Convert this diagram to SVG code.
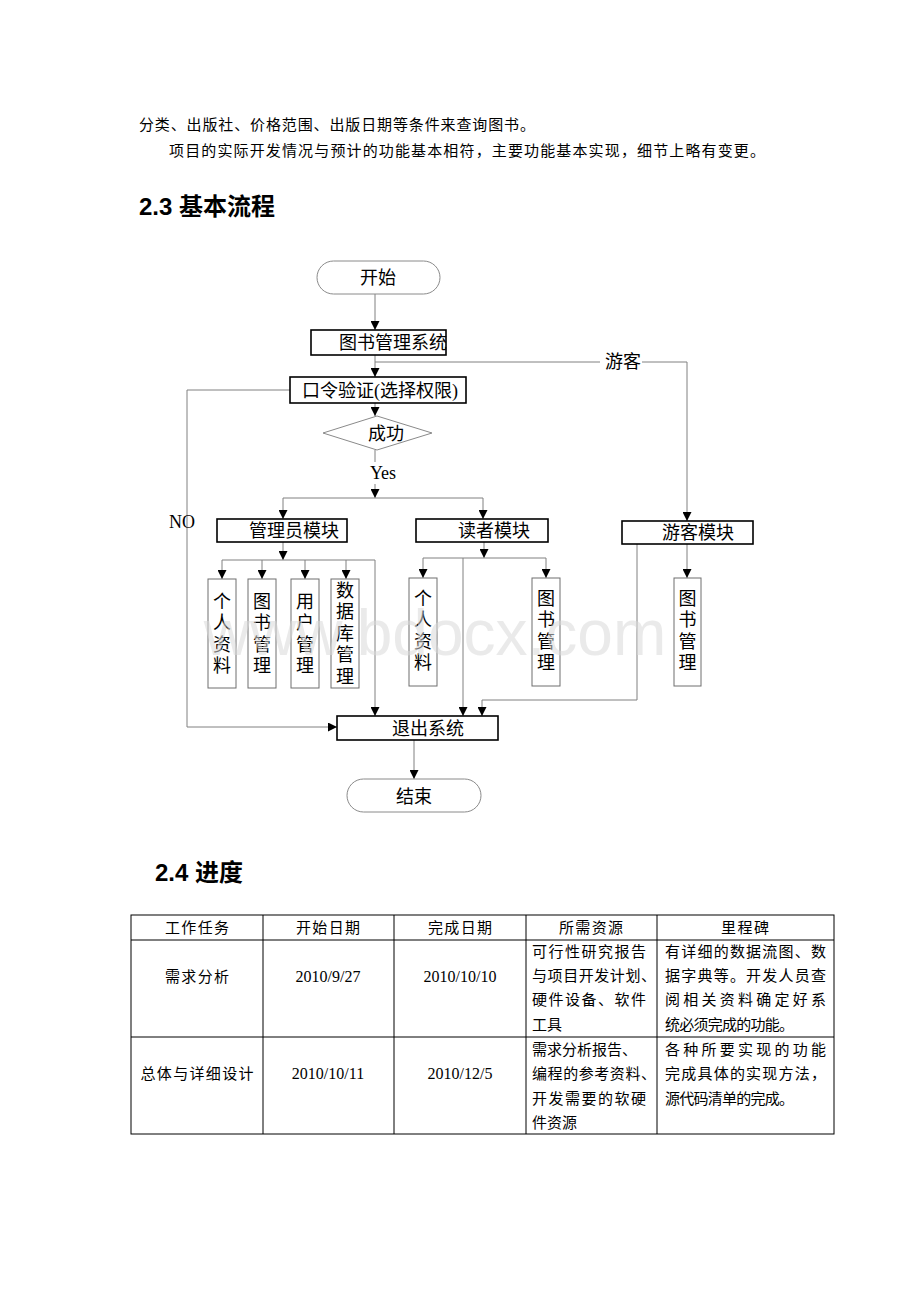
<svg xmlns="http://www.w3.org/2000/svg" width="920" height="1302" viewBox="0 0 920 1302">
<style>
.body{font-family:"Liberation Serif","Noto Sans CJK SC",serif;fill:#000}
.h{font-family:"Liberation Sans","Noto Sans CJK SC",sans-serif;font-weight:bold;font-size:24px;fill:#000}
.n{font-family:"Liberation Serif","Noto Sans CJK SC",serif;font-size:18px;fill:#000}
.v{font-family:"Liberation Serif","Noto Sans CJK SC",serif;font-size:18px;fill:#000;writing-mode:vertical-rl;text-orientation:upright;letter-spacing:3.5px}
.t{font-family:"Liberation Serif","Noto Sans CJK SC",serif;font-size:15px;fill:#000}
.d{font-family:"Liberation Serif","Noto Sans CJK SC",serif;font-size:16px;fill:#000}
.box{fill:#fff;stroke:#000;stroke-width:1.6}
.sub{fill:#fff;stroke:#6e6e6e;stroke-width:1}
.term{fill:#fff;stroke:#8a8a8a;stroke-width:1}
.conn path{fill:none;stroke:#808080;stroke-width:1}
.arr{marker-end:url(#ah)}
.grid{fill:none;stroke:#000;stroke-width:1}
.wm{font-family:"Liberation Sans",sans-serif;font-size:64px;fill:#d8d8d8;fill-opacity:0.55}
</style>
<defs>
<marker id="ah" viewBox="0 0 10 10" refX="10" refY="5" markerWidth="9" markerHeight="9" markerUnits="userSpaceOnUse" orient="auto">
<path d="M0,0 L10,5 L0,10 z" fill="#000"/>
</marker>
</defs>
<rect width="920" height="1302" fill="#fff"/>

<g id="intro">
<text class="t" x="139" y="130" textLength="396" lengthAdjust="spacing">分类、出版社、价格范围、出版日期等条件来查询图书。</text>
<text class="t" x="169" y="156" textLength="596" lengthAdjust="spacing">项目的实际开发情况与预计的功能基本相符，主要功能基本实现，细节上略有变更。</text>
<text class="h" x="139" y="215">2.3 基本流程</text>
<text class="h" x="155" y="881">2.4 进度</text>
</g>

<g id="connectors" class="conn">
<path class="arr" d="M375,294 V330"/>
<path class="arr" d="M375,355 V377"/>
<path d="M375,362 H600 M642,362 H687"/>
<path class="arr" d="M687,362 V521"/>
<path class="arr" d="M290,390 H187 V727 H337"/>
<path class="arr" d="M375,403 V416"/>
<path d="M375,450 V462"/>
<path class="arr" d="M375,484 V498"/>
<path d="M283,498 H483"/>
<path class="arr" d="M283,498 V519"/>
<path class="arr" d="M483,498 V519"/>
<path class="arr" d="M283,542 V560"/>
<path d="M222,560 H375"/>
<path class="arr" d="M222,560 V579"/>
<path class="arr" d="M262,560 V579"/>
<path class="arr" d="M305,560 V579"/>
<path class="arr" d="M346,560 V579"/>
<path class="arr" d="M375,560 V716"/>
<path class="arr" d="M484,542 V558"/>
<path d="M423,558 H546"/>
<path class="arr" d="M423,558 V578"/>
<path class="arr" d="M546,558 V578"/>
<path class="arr" d="M463,558 V716"/>
<path class="arr" d="M687,544 V578"/>
<path class="arr" d="M637,544 V700 H482 V716"/>
<path class="arr" d="M414,740 V779"/>
</g>

<g id="start">
<rect class="term" x="317" y="261" width="123" height="33" rx="16.5"/>
<text class="n" x="378" y="284" text-anchor="middle">开始</text>
</g>
<g id="system">
<rect class="box" x="311" y="330" width="135" height="25"/>
<text class="n" x="339" y="349">图书管理系统</text>
</g>
<g id="guest-label">
<text class="n" x="605" y="368">游客</text>
</g>
<g id="login">
<rect class="box" x="290" y="377" width="176" height="26"/>
<text class="n" x="380" y="397" text-anchor="middle">口令验证(选择权限)</text>
</g>
<g id="success">
<polygon class="term" points="377,416 432,433 377,450 323,433"/>
<text class="n" x="386" y="440" text-anchor="middle">成功</text>
</g>
<g id="yes-label">
<text class="n" x="383" y="479" text-anchor="middle">Yes</text>
</g>
<g id="no-label">
<text class="n" x="169" y="528">NO</text>
</g>
<g id="admin">
<rect class="box" x="217" y="519" width="130" height="23"/>
<text class="n" x="249" y="537">管理员模块</text>
</g>
<g id="reader">
<rect class="box" x="416" y="519" width="132" height="23"/>
<text class="n" x="458" y="537">读者模块</text>
</g>
<g id="guest">
<rect class="box" x="622" y="521" width="131" height="23"/>
<text class="n" x="662" y="539">游客模块</text>
</g>

<g id="admin-profile">
<rect class="sub" x="208" y="579" width="28" height="109"/>
<text class="v" x="220" y="592">个人资料</text>
</g>
<g id="admin-books">
<rect class="sub" x="248" y="579" width="28" height="109"/>
<text class="v" x="260" y="592">图书管理</text>
</g>
<g id="admin-users">
<rect class="sub" x="291" y="579" width="28" height="109"/>
<text class="v" x="303" y="592">用户管理</text>
</g>
<g id="admin-db">
<rect class="sub" x="331" y="579" width="28" height="109"/>
<text class="v" x="343" y="581">数据库管理</text>
</g>
<g id="reader-profile">
<rect class="sub" x="409" y="578" width="28" height="108"/>
<text class="v" x="421" y="589">个人资料</text>
</g>
<g id="reader-books">
<rect class="sub" x="532" y="578" width="28" height="108"/>
<text class="v" x="544" y="589">图书管理</text>
</g>
<g id="guest-books">
<rect class="sub" x="674" y="578" width="27" height="108"/>
<text class="v" x="685.5" y="589">图书管理</text>
</g>
<g id="exit">
<rect class="box" x="337" y="716" width="161" height="24"/>
<text class="n" x="392" y="735">退出系统</text>
</g>
<g id="end">
<rect class="term" x="347" y="779" width="134" height="33" rx="16.5"/>
<text class="n" x="414" y="803" text-anchor="middle">结束</text>
</g>

<g id="table">
<rect class="grid" x="131" y="915" width="703" height="219"/>
<path class="grid" d="M131,940 H834 M131,1037 H834 M263,915 V1134 M394,915 V1134 M526,915 V1134 M657,915 V1134"/>
<text class="t" text-anchor="middle" x="197" y="933" textLength="64" lengthAdjust="spacing">工作任务</text>
<text class="t" text-anchor="middle" x="328" y="933" textLength="64" lengthAdjust="spacing">开始日期</text>
<text class="t" text-anchor="middle" x="460" y="933" textLength="64" lengthAdjust="spacing">完成日期</text>
<text class="t" text-anchor="middle" x="591" y="933" textLength="64" lengthAdjust="spacing">所需资源</text>
<text class="t" text-anchor="middle" x="745" y="933" textLength="48" lengthAdjust="spacing">里程碑</text>
<text class="t" text-anchor="middle" x="197" y="982" textLength="64" lengthAdjust="spacing">需求分析</text>
<text class="d" text-anchor="middle" x="328" y="982">2010/9/27</text>
<text class="d" text-anchor="middle" x="460" y="982">2010/10/10</text>
<text class="t" x="532" y="957" textLength="114" lengthAdjust="spacing">可行性研究报告</text>
<text class="t" x="532" y="981" textLength="124" lengthAdjust="spacing">与项目开发计划、</text>
<text class="t" x="532" y="1005" textLength="114" lengthAdjust="spacing">硬件设备、软件</text>
<text class="t" x="532" y="1030">工具</text>
<text class="t" x="665" y="957" textLength="161" lengthAdjust="spacing">有详细的数据流图、数</text>
<text class="t" x="665" y="981" textLength="161" lengthAdjust="spacing">据字典等。开发人员查</text>
<text class="t" x="665" y="1005" textLength="161" lengthAdjust="spacing">阅相关资料确定好系</text>
<text class="t" x="665" y="1030" textLength="129" lengthAdjust="spacing">统必须完成的功能。</text>
<text class="t" text-anchor="middle" x="197" y="1079" textLength="113" lengthAdjust="spacing">总体与详细设计</text>
<text class="d" text-anchor="middle" x="328" y="1079">2010/10/11</text>
<text class="d" text-anchor="middle" x="460" y="1079">2010/12/5</text>
<text class="t" x="532" y="1055" textLength="105" lengthAdjust="spacing">需求分析报告、</text>
<text class="t" x="532" y="1079" textLength="124" lengthAdjust="spacing">编程的参考资料、</text>
<text class="t" x="532" y="1104" textLength="114" lengthAdjust="spacing">开发需要的软硬</text>
<text class="t" x="532" y="1128">件资源</text>
<text class="t" x="665" y="1055" textLength="161" lengthAdjust="spacing">各种所要实现的功能</text>
<text class="t" x="665" y="1079" textLength="161" lengthAdjust="spacing">完成具体的实现方法，</text>
<text class="t" x="665" y="1104" textLength="129" lengthAdjust="spacing">源代码清单的完成。</text>
</g>

<g id="watermark">
<text class="wm" x="435" y="655" text-anchor="middle">www.bdocx.com</text>
</g>
</svg>
